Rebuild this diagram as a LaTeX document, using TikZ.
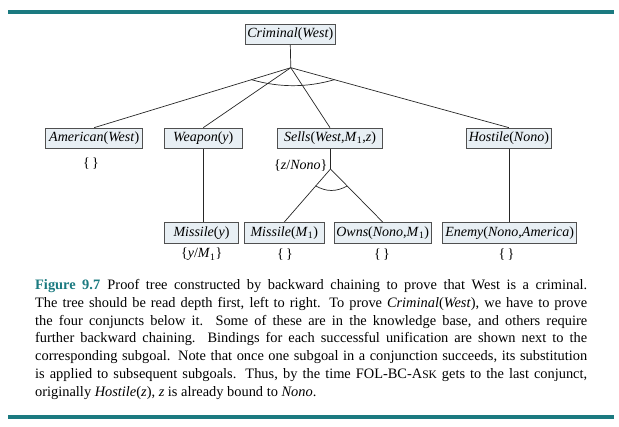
\documentclass[tikz,border=0pt]{standalone}
\usepackage{fontspec}
\setmainfont{Liberation Serif}
\usetikzlibrary{calc}
\definecolor{teal7}{HTML}{1B7A80}
\definecolor{boxfill}{HTML}{E8EFF4}
\definecolor{boxline}{HTML}{505050}
\newcommand{\capline}[1]{\makebox[552pt][s]{#1}}
\begin{document}
\begin{tikzpicture}[x=1pt,y=-1pt,
  goal/.style={draw=boxline, fill=boxfill, line width=0.8pt, minimum height=20.5pt, inner sep=0pt, font=\fontsize{14}{15}\selectfont},
  bind/.style={inner sep=0pt, font=\fontsize{14}{15}\selectfont},
  link/.style={draw=black!85, line width=0.7pt},
  andarc/.style={draw=black!85, line width=0.7pt},
  bar/.style={fill=teal7, draw=none}]
\useasboundingbox (0,0) rectangle (619,427);
\fill[bar] (8,10) rectangle (614,14);
\fill[bar] (8,415) rectangle (614,419);
% goal nodes
\node[goal, minimum width=90pt]  (crim) at (290.3,34.2)  {\textit{Criminal}(\textit{West})};
\node[goal, minimum width=97pt]  (am)   at (94.2,138.3)  {\textit{American}(\textit{West})};
\node[goal, minimum width=77.3pt](wp)   at (203.3,138.3) {\textit{Weapon}(\textit{y})};
\node[goal, minimum width=105.4pt](se)  at (330,138.3)   {\textit{Sells}(\textit{West},\textit{M}\textsubscript{1},\textit{z})};
\node[goal, minimum width=85.7pt](ho)   at (508.9,138.3) {\textit{Hostile}(\textit{Nono})};
\node[goal, minimum width=73.6pt](mi1)  at (201.5,232.7) {\textit{Missile}(\textit{y})};
\node[goal, minimum width=80pt]  (mi2)  at (284.3,232.7) {\textit{Missile}(\textit{M}\textsubscript{1})};
\node[goal, minimum width=96.7pt](ow)   at (382.7,232.7) {\textit{Owns}(\textit{Nono},\textit{M}\textsubscript{1})};
\node[goal, minimum width=134pt] (en)   at (509.7,232.7) {\textit{Enemy}(\textit{Nono},\textit{America})};
% bindings
\node[bind] (bam) at (91,163.5)  {\{\,\}};
\node[bind] (bse) at (300.8,165.5) {\{\textit{z}/\textit{Nono}\}};
\node[bind] (bmi1) at (201.7,254.5) {\{\textit{y}/\textit{M}\textsubscript{1}\}};
\node[bind] (bmi2) at (285,254.5) {\{\,\}};
\node[bind] (bow) at (382,254.5) {\{\,\}};
\node[bind] (ben) at (506.5,254.5) {\{\,\}};
% junctions
\coordinate (j1) at (290.8,67.7);
\coordinate (j2) at (330.5,169);
\draw[link] (crim.south) -- (j1);
\draw[link] (j1) -- (am.north);
\draw[link] (j1) -- (wp.north);
\draw[link] (j1) -- (se.north);
\draw[link] (j1) -- (ho.north);
\draw[link] (wp.south) -- (wp.south |- mi1.north);
\draw[link] (ho.south) -- (ho.south |- en.north);
\draw[link] (se.south -| j2) -- (j2);
\draw[link] (j2) -- (mi2.north);
\draw[link] (j2) -- (ow.north);
% and-arcs
\coordinate (a1) at ($(j1)!0.2!(am.north)$);
\coordinate (a2) at ($(j1)!0.2!(ho.north)$);
\draw[andarc] (a1) .. controls ($(a1)+(28,8)$) and ($(a2)+(-28,8)$) .. (a2);
\coordinate (b1) at ($(j2)!0.32!(mi2.north)$);
\coordinate (b2) at ($(j2)!0.32!(ow.north)$);
\draw[andarc] (b1) .. controls ($(b1)+(11,6)$) and ($(b2)+(-11,6)$) .. (b2);
% caption
\node[anchor=base west, inner sep=0pt, align=left, font=\fontsize{14.4}{17.9}\selectfont] (cap) at (35,396.7) {%
\capline{\textcolor{teal7}{\textbf{Figure 9.7}}\enspace Proof tree constructed by backward chaining to prove that West is a criminal.}\\
\capline{The tree should be read depth first, left to right. To prove \textit{Criminal}(\textit{West}), we have to prove}\\
\capline{the four conjuncts below it.\ \ Some of these are in the knowledge base, and others require}\\
\capline{further backward chaining.\ \ Bindings for each successful unification are shown next to the}\\
\capline{corresponding subgoal. Note that once one subgoal in a conjunction succeeds, its substitution}\\
\capline{is applied to subsequent subgoals. Thus, by the time FOL-BC-A{\fontsize{11.5}{12}\selectfont SK} gets to the last conjunct,}\\
originally \textit{Hostile}(\textit{z}), \textit{z} is already bound to \textit{Nono}.};
\end{tikzpicture}
\end{document}
